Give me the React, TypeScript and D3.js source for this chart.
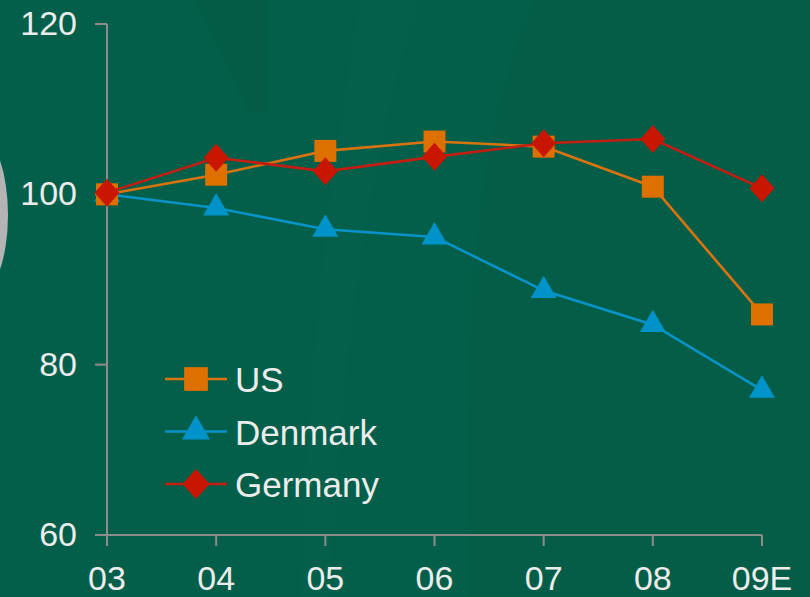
import React from "react";
import * as d3 from "d3";

const categories = ["03", "04", "05", "06", "07", "08", "09E"];
const usValues = [100, 102.3, 105.1, 106.2, 105.6, 100.9, 85.9];
const denmarkValues = [100, 98.4, 95.9, 95.0, 88.7, 84.7, 77.0];
const germanyValues = [100.2, 104.3, 102.7, 104.4, 106.0, 106.5, 100.7];
const yTicks = [60, 80, 100, 120];

const seriesNames = ["Denmark", "US", "Germany"];
const legendOrder = ["US", "Denmark", "Germany"];

const W = 810;
const H = 597;
const BG = "#045f4a";
const FONT = "'Liberation Sans', Arial, sans-serif";

const colors: Record<string, { marker: string; line: string; shape: string }> = {
  US: { marker: "#de7000", line: "#d9730f", shape: "square" },
  Denmark: { marker: "#0093ca", line: "#0a93c8", shape: "triangle" },
  Germany: { marker: "#c81600", line: "#c41d12", shape: "diamond" },
};

const valuesBy: Record<string, number[]> = {
  US: usValues,
  Denmark: denmarkValues,
  Germany: germanyValues,
};

function markerPath(shape: string, scale = 1): string {
  if (shape === "square") {
    const s = 11 * scale;
    return `M${-s},${-s}H${s}V${s}H${-s}Z`;
  }
  if (shape === "triangle") {
    return d3.symbol(d3.symbolTriangle, 290 * scale * scale)() || "";
  }
  const w = 12.5 * scale;
  const h = 14 * scale;
  return `M0,${-h}L${w},0L0,${h}L${-w},0Z`;
}

export default function App() {
  const x = d3.scalePoint<string>().domain(categories).range([107, 762]);
  const y = d3.scaleLinear().domain([60, 120]).range([535, 24]);
  const line = d3
    .line<number>()
    .x((_, i) => x(categories[i]) as number)
    .y((d) => y(d));

  return (
    <svg
      width={W}
      height={H}
      style={{ position: "fixed", left: 0, top: 0, display: "block" }}
    >
      <rect x={0} y={0} width={W} height={H} fill={BG} />
      {/* faint background decoration */}
      <path d="M195,0 C215,40 235,80 248,112 L268,112 L268,0 Z" fill="#02583f" opacity={0.4} />
      <path d="M420,0 C380,120 345,300 330,597 L300,597 C310,300 340,120 360,0 Z" fill="#0a6a52" opacity={0.1} />
      <path d="M810,0 L535,0 C480,120 460,300 470,597 L810,597 Z" fill="#02573f" opacity={0.25} />
      <ellipse cx={-22} cy={215} rx={30} ry={80} fill="#b4b4b4" />

      {/* axes */}
      <g stroke="#8c8c8c" strokeWidth={2} fill="none">
        <line x1={107} x2={107} y1={y(120)} y2={y(60)} />
        <line x1={107} x2={762} y1={y(60)} y2={y(60)} />
        {yTicks.map((t) => (
          <line key={t} x1={95} x2={107} y1={y(t)} y2={y(t)} />
        ))}
        {categories.map((c) => (
          <line key={c} x1={x(c)} x2={x(c)} y1={y(60)} y2={y(60) + 11} />
        ))}
      </g>
      <g fill="#ececec" fontFamily={FONT} fontSize={34}>
        {yTicks.map((t) => (
          <text key={t} x={77} y={y(t) + 11} textAnchor="end">
            {t}
          </text>
        ))}
        {categories.map((c) => (
          <text key={c} x={x(c)} y={590} textAnchor="middle">
            {c}
          </text>
        ))}
      </g>

      {/* series */}
      {seriesNames.map((name) => {
        const vals = valuesBy[name];
        const col = colors[name];
        return (
          <g key={name}>
            <path d={line(vals) || ""} fill="none" stroke={col.line} strokeWidth={2.6} />
            {vals.map((v, i) => (
              <path
                key={i}
                d={markerPath(col.shape)}
                transform={`translate(${x(categories[i])},${y(v)})`}
                fill={col.marker}
              />
            ))}
          </g>
        );
      })}

      {/* legend */}
      <g fontFamily={FONT} fontSize={35} fill="#ececec">
        {legendOrder.map((name, i) => {
          const ly = 379 + i * 52.5;
          const col = colors[name];
          return (
            <g key={name}>
              <line x1={165} x2={227} y1={ly} y2={ly} stroke={col.line} strokeWidth={2.6} />
              <path
                d={markerPath(col.shape, 1.08)}
                transform={`translate(196,${ly})`}
                fill={col.marker}
              />
              <text x={235} y={ly + 13}>
                {name}
              </text>
            </g>
          );
        })}
      </g>
    </svg>
  );
}
